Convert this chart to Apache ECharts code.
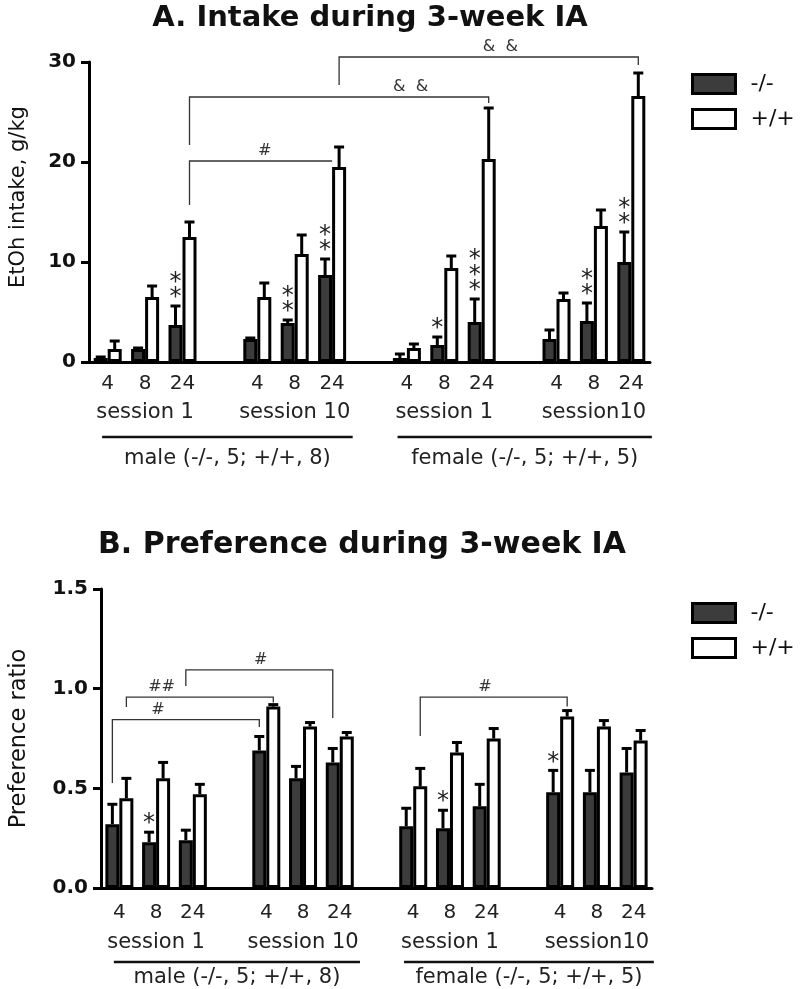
<!DOCTYPE html>
<html>
<head>
<meta charset="utf-8">
<script src="https://cdn.jsdelivr.net/npm/echarts@6/dist/echarts.min.js"></script>
<style>html,body{margin:0;padding:0;background:#fff}#c{width:800px;height:989px}</style>
</head>
<body>
<div id="c"></div>
<script>
// ---------- data ----------
const categories = ['4','8','24','','4','8','24','','4','8','24','','4','8','24'];
const seriesNames = ['-/-', '+/+'];

const intakeKO    = [0.4, 1.3, 3.7, null, 2.3, 3.9, 8.7, null, 0.4, 1.7, 4.0, null, 2.3, 4.1, 10.0];
const intakeKOsem = [0.1, 0.1, 1.9, null, 0.1, 0.3, 1.6, null, 0.4, 0.8, 2.3, null, 0.9, 1.8, 3.0];
const intakeWT    = [1.3, 6.5, 12.5, null, 6.5, 10.8, 19.5, null, 1.4, 9.4, 20.3, null, 6.3, 13.6, 26.6];
const intakeWTsem = [0.8, 1.1, 1.5, null, 1.4, 1.9, 2.0, null, 0.4, 1.2, 5.1, null, 0.6, 1.6, 2.3];

const prefKO    = [0.32, 0.23, 0.24, null, 0.69, 0.55, 0.63, null, 0.31, 0.30, 0.41, null, 0.48, 0.48, 0.58];
const prefKOsem = [0.10, 0.05, 0.05, null, 0.07, 0.06, 0.07, null, 0.09, 0.09, 0.11, null, 0.11, 0.11, 0.12];
const prefWT    = [0.45, 0.55, 0.47, null, 0.91, 0.81, 0.76, null, 0.51, 0.68, 0.75, null, 0.86, 0.81, 0.74];
const prefWTsem = [0.10, 0.08, 0.05, null, 0.01, 0.02, 0.02, null, 0.09, 0.05, 0.05, null, 0.03, 0.03, 0.05];

// asterisks above -/- bars: [category index, number of stars]
const intakeStars = [[2,2],[5,2],[6,2],[9,1],[10,3],[13,2],[14,2]];
const prefStars   = [[1,1],[9,1],[12,1]];

// brackets: [from idx, from bar, to idx, to bar, top value, left end value, right end value, label, label position (category units)]
const intakeBrackets = [
  [2,'R', 6,'C', 20.1, 15.7, 20.1, '#', 4.2],
  [2,'R',10,'R', 26.5, 21.7, 25.9, '&  &', 8.1],
  [6,'R',14,'R', 30.5, 27.7, 29.7, '&  &', 10.5]
];
const prefBrackets = [
  [2,'L', 6,'L', 1.094, 1.013, 0.853, '#', 3.85],
  [0,'R', 4,'R', 0.958, 0.908, 0.93, '##', 1.15],
  [0,'L', 4,'L', 0.845, 0.527, 0.808, '#', 1.05],
  [8,'R',12,'R', 0.958, 0.763, 0.91, '#', 9.95]
];

const sessionLabels  = ['session 1', 'session 10', 'session 1', 'session10'];
const sessionCenters = [1, 5, 9, 13];
const groupLabels = ['male (-/-, 5; +/+, 8)', 'female (-/-, 5; +/+, 5)'];
const groupSpans  = [[-0.15, 6.55], [7.75, 14.55]];

const titles = ['A. Intake during 3-week IA', 'B. Preference during 3-week IA'];
const yNames = ['EtOh intake, g/kg', 'Preference ratio'];

// ---------- styling ----------
const FONT = '"DejaVu Sans", "Liberation Sans", Arial, sans-serif';
const BAR_W = 14;
const SIDE = {L: -0.5, C: 0, R: 0.5};
const DARK = '#3c3c3c';

function catX(api, pos) {
  const x0 = api.coord([0, 0])[0];
  const bw = api.size([1, 0])[0];
  return x0 + pos * bw;
}

function errSeries(gi, means, sems, sign) {
  const data = [];
  means.forEach((m, i) => { if (m != null) data.push([i, m, m + sems[i]]); });
  return {
    type: 'custom', xAxisIndex: gi, yAxisIndex: gi, data, z: 5, clip: false,
    silent: true,
    renderItem: (params, api) => {
      const p0 = api.coord([api.value(0), api.value(1)]);
      const p1 = api.coord([api.value(0), api.value(2)]);
      const cx = p0[0] + sign * BAR_W / 2;
      return {type: 'group', children: [
        {type: 'line', shape: {x1: cx, y1: p0[1], x2: cx, y2: p1[1]}, style: {stroke: '#000', lineWidth: 3}},
        {type: 'line', shape: {x1: cx - 5, y1: p1[1], x2: cx + 5, y2: p1[1]}, style: {stroke: '#000', lineWidth: 3}}
      ]};
    }
  };
}

function starSeries(gi, stars, means, sems) {
  return {
    type: 'custom', xAxisIndex: gi, yAxisIndex: gi, clip: false, silent: true, z: 6,
    data: stars.map(s => [s[0], means[s[0]] + sems[s[0]], s[1]]),
    renderItem: (params, api) => {
      const p = api.coord([api.value(0), api.value(1)]);
      const cx = p[0] - BAR_W / 2;
      const n = api.value(2);
      const children = [];
      for (let k = 0; k < n; k++) {
        const y = p[1] - 12 - k * 15.5;
        children.push({type: 'text', style: {text: '*', x: cx, y: y + 4, font: '24px ' + FONT,
          fill: '#222', align: 'center', verticalAlign: 'middle', textAlign: 'center', textVerticalAlign: 'middle'}});
      }
      return {type: 'group', children};
    }
  };
}

function bracketSeries(gi, brackets) {
  return {
    type: 'custom', xAxisIndex: gi, yAxisIndex: gi, clip: false, silent: true, z: 6,
    data: brackets.map(b => [b[0], b[4]]),
    renderItem: (params, api) => {
      const b = brackets[params.dataIndex];
      const xl = api.coord([b[0], 0])[0] + SIDE[b[1]] * BAR_W;
      const xr = api.coord([b[2], 0])[0] + SIDE[b[3]] * BAR_W;
      const yt = api.coord([b[0], b[4]])[1];
      const yl = api.coord([b[0], b[5]])[1];
      const yr = api.coord([b[0], b[6]])[1];
      const lx = catX(api, b[8]);
      const st = {stroke: '#333', lineWidth: 1.3, fill: null};
      return {type: 'group', children: [
        {type: 'polyline', shape: {points: [[xl, yl], [xl, yt], [xr, yt], [xr, yr]]}, style: st},
        {type: 'text', style: {text: b[7], x: lx, y: yt - 2, font: '16px ' + FONT, fill: '#333',
          align: 'center', verticalAlign: 'bottom', textAlign: 'center', textVerticalAlign: 'bottom'}}
      ]};
    }
  };
}

function sessionSeries(gi, offY) {
  return {
    type: 'custom', xAxisIndex: gi, yAxisIndex: gi, clip: false, silent: true,
    data: sessionCenters.map(c => [c, 0]),
    renderItem: (params, api) => {
      const p = api.coord([api.value(0), 0]);
      return {type: 'text', style: {text: sessionLabels[params.dataIndex], x: p[0], y: p[1] + offY,
        font: '21px ' + FONT, fill: '#222', align: 'center', verticalAlign: 'middle',
        textAlign: 'center', textVerticalAlign: 'middle'}};
    }
  };
}

function groupSeries(gi, lineY, labelY) {
  return {
    type: 'custom', xAxisIndex: gi, yAxisIndex: gi, clip: false, silent: true,
    data: groupSpans.map(s => [0, 0]),
    renderItem: (params, api) => {
      const s = groupSpans[params.dataIndex];
      const y0 = api.coord([0, 0])[1];
      const x1 = catX(api, s[0]), x2 = catX(api, s[1]);
      return {type: 'group', children: [
        {type: 'line', shape: {x1, y1: y0 + lineY, x2, y2: y0 + lineY}, style: {stroke: '#111', lineWidth: 2.5}},
        {type: 'text', style: {text: groupLabels[params.dataIndex], x: (x1 + x2) / 2, y: y0 + labelY,
          font: '21px ' + FONT, fill: '#222', align: 'center', verticalAlign: 'middle',
          textAlign: 'center', textVerticalAlign: 'middle'}}
      ]};
    }
  };
}

function barSeries(gi, name, vals, fill) {
  return {
    type: 'bar', name, xAxisIndex: gi, yAxisIndex: gi,
    data: vals.map(v => v == null ? '-' : v),
    barWidth: BAR_W, barGap: '0%',
    itemStyle: {color: fill, borderColor: '#000', borderWidth: 3},
    emphasis: {disabled: true}, z: 3
  };
}

const xAxisBase = (gi, margin) => ({
  type: 'category', gridIndex: gi, data: categories, boundaryGap: true,
  axisLine: {lineStyle: {color: '#000', width: 3}},
  axisTick: {alignWithLabel: true, length: 8, lineStyle: {color: '#000', width: 3}},
  axisLabel: {fontFamily: FONT, fontSize: 20, color: '#222', margin, interval: 0}
});

const yAxisBase = (gi, max, interval, dec, nameGap, fs, pad) => ({
  type: 'value', gridIndex: gi, min: 0, max, interval,
  name: yNames[gi], nameLocation: 'middle', nameGap, nameRotate: 90,
  nameTextStyle: {fontFamily: FONT, fontSize: fs, color: '#111', padding: pad},
  axisLine: {show: true, lineStyle: {color: '#000', width: 3}},
  axisTick: {show: true, length: 8, lineStyle: {color: '#000', width: 3}},
  splitLine: {show: false},
  axisLabel: {fontFamily: FONT, fontSize: 20, fontWeight: 'bold', color: '#111', margin: 13,
    formatter: v => v.toFixed(dec)}
});

const legendBase = (top) => ({
  data: seriesNames, orient: 'vertical', left: 686, top,
  itemWidth: 43, itemHeight: 19, itemGap: 13, icon: 'rect',
  itemStyle: {borderWidth: 3, borderColor: '#000'},
  textStyle: {fontFamily: FONT, fontSize: 22, color: '#111', padding: [0, 0, 0, 10]},
  selectedMode: false
});

const chart = echarts.init(document.getElementById('c'), null, {renderer: 'canvas'});
chart.setOption({
  backgroundColor: '#fff',
  animation: false,
  graphic: [
    {type: 'text', x: 370, y: 18, style: {text: titles[0], font: 'bold 29px ' + FONT, fill: '#111',
      align: 'center', verticalAlign: 'middle', textAlign: 'center', textVerticalAlign: 'middle'}},
    {type: 'text', x: 362, y: 545, style: {text: titles[1], font: 'bold 30px ' + FONT, fill: '#111',
      align: 'center', verticalAlign: 'middle', textAlign: 'center', textVerticalAlign: 'middle'}}
  ],
  legend: [legendBase(68), legendBase(597)],
  grid: [
    {left: 88, right: 150, top: 62, height: 300},
    {left: 95, right: 148, top: 589, height: 299}
  ],
  xAxis: [xAxisBase(0, 12), xAxisBase(1, 15)],
  yAxis: [yAxisBase(0, 30, 10, 0, 60, 21, [0, 0, 0, 30]), yAxisBase(1, 1.5, 0.5, 1, 70, 22.5, 0)],
  series: [
    barSeries(0, seriesNames[0], intakeKO, DARK),
    barSeries(0, seriesNames[1], intakeWT, '#fff'),
    barSeries(1, seriesNames[0], prefKO, DARK),
    barSeries(1, seriesNames[1], prefWT, '#fff'),
    errSeries(0, intakeKO, intakeKOsem, -1),
    errSeries(0, intakeWT, intakeWTsem, 1),
    errSeries(1, prefKO, prefKOsem, -1),
    errSeries(1, prefWT, prefWTsem, 1),
    starSeries(0, intakeStars, intakeKO, intakeKOsem),
    starSeries(1, prefStars, prefKO, prefKOsem),
    bracketSeries(0, intakeBrackets),
    bracketSeries(1, prefBrackets),
    sessionSeries(0, 51),
    sessionSeries(1, 55),
    groupSeries(0, 75, 97),
    groupSeries(1, 74, 90)
  ]
});
</script>
</body>
</html>
